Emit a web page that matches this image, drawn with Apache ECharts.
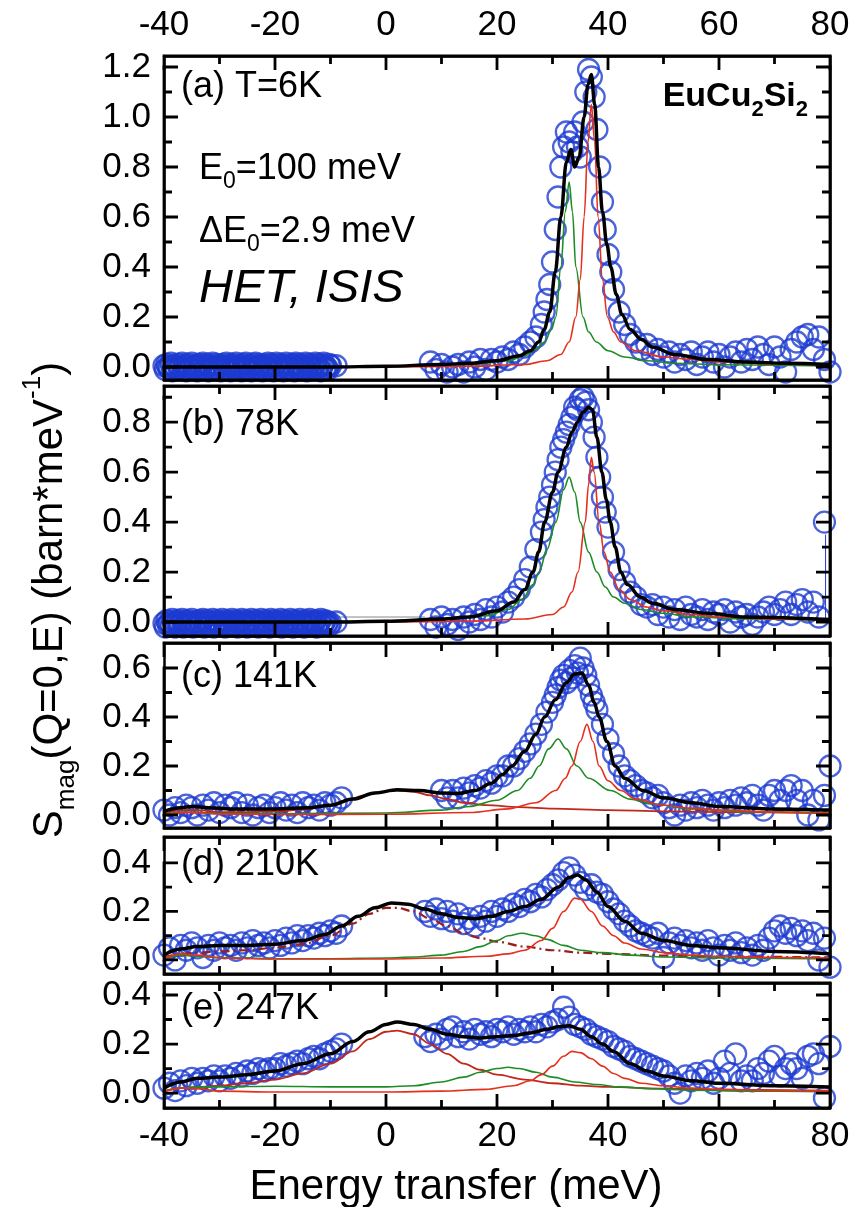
<!DOCTYPE html>
<html><head><meta charset="utf-8">
<script src="https://cdn.jsdelivr.net/npm/echarts@6/dist/echarts.min.js"></script>
<style>html,body{margin:0;padding:0;background:#fff}#c{width:854px;height:1207px}</style>
</head><body><div id="c"></div>
<script>
// ---------- axis values ----------
const xTickLabels = [-40, -20, 0, 20, 40, 60, 80];
const xMinorTicks = [-30, -10, 10, 30, 50, 70];
const yMin = [-0.052, -0.056, -0.053, -0.058, -0.061];
const yMax = [1.244, 0.945, 0.702, 0.507, 0.449];
const yMajor = [[0,0.2,0.4,0.6,0.8,1.0,1.2],[0,0.2,0.4,0.6,0.8],[0,0.2,0.4,0.6],[0,0.2,0.4],[0,0.2,0.4]];
const yMinor = [[0.1,0.3,0.5,0.7,0.9,1.1],[0.1,0.3,0.5,0.7,0.9],[0.1,0.3,0.5],[0.1,0.3],[0.1,0.3]];
const panelLabels = ['(a) T=6K', '(b) 78K', '(c) 141K', '(d) 210K', '(e) 247K'];

// ---------- measured data (circles) ----------
const bandX = [-40,-39.75,-39.5,-39.25,-39,-38.75,-38.5,-38.25,-38,-37.75,-37.5,-37.25,-37,-36.75,-36.5,-36.25,-36,-35.75,-35.5,-35.25,
  -35,-34.75,-34.5,-34.25,-34,-33.75,-33.5,-33.25,-33,-32.75,-32.5,-32.25,-32,-31.75,-31.5,-31.25,-31,-30.75,-30.5,-30.25,
  -30,-29.75,-29.5,-29.25,-29,-28.75,-28.5,-28.25,-28,-27.75,-27.5,-27.25,-27,-26.75,-26.5,-26.25,-26,-25.75,-25.5,-25.25,
  -25,-24.75,-24.5,-24.25,-24,-23.75,-23.5,-23.25,-23,-22.75,-22.5,-22.25,-22,-21.75,-21.5,-21.25,-21,-20.75,-20.5,-20.25,
  -20,-19.75,-19.5,-19.25,-19,-18.75,-18.5,-18.25,-18,-17.75,-17.5,-17.25,-17,-16.75,-16.5,-16.25,-16,-15.75,-15.5,-15.25,
  -15,-14.75,-14.5,-14.25,-14,-13.75,-13.5,-13.25,-13,-12.75,-12.5,-12.25,-12,-11.75,-11.5,-11.25,-11,-10.75,-10.5,-10.25,-10];
const bandA = [0.005,-0.01,0.01,0.0,-0.005,0.015,-0.015,0.005,0.0,-0.01,
  0.01,-0.005,0.0,0.015,-0.01,0.005,-0.015,0.01,0.0,-0.005,
  0.015,-0.01,0.005,0.0,-0.015,0.01,-0.005,0.005,0.015,-0.01,
  0.0,0.01,-0.015,0.005,-0.005,0.015,0.0,-0.01,0.01,-0.005,
  0.005,-0.015,0.01,0.0,-0.01,0.015,-0.005,0.005,-0.015,0.01,
  0.0,-0.005,0.015,-0.01,0.005,0.0,-0.015,0.01,-0.005,0.015,
  -0.01,0.005,0.0,-0.015,0.01,-0.005,0.015,0.0,-0.01,0.005,
  0.01,-0.015,0.0,0.005,-0.005,0.015,-0.01,0.01,0.0,-0.015,
  0.005,0.015,-0.005,-0.01,0.01,0.0,-0.015,0.005,0.015,-0.005,
  0.0,-0.01,0.01,0.005,-0.015,0.015,-0.005,0.0,0.01,-0.01,
  0.005,-0.005,0.015,-0.015,0.0,0.01,-0.01,0.005,-0.005,0.015,
  -0.01,0.0,0.01,-0.015,0.005,0.015,-0.005,0.0,-0.01,0.01,0.005];
const bandB = [-0.005,-0.02,0.005,-0.01,0.0,-0.015,0.01,-0.005,-0.02,0.0,
  0.005,-0.015,-0.005,0.01,-0.02,0.0,-0.01,0.005,-0.015,-0.005,
  0.01,-0.02,0.0,-0.005,-0.015,0.005,-0.01,0.0,0.01,-0.02,
  -0.005,0.005,-0.015,0.0,-0.01,0.01,-0.02,-0.005,0.005,-0.01,
  0.0,-0.015,0.01,-0.005,-0.02,0.005,-0.01,0.0,-0.015,0.01,
  -0.005,-0.01,0.005,-0.02,0.0,-0.005,0.01,-0.015,-0.005,0.005,
  -0.02,0.0,-0.01,0.01,-0.005,-0.015,0.005,0.0,-0.02,-0.005,
  0.01,-0.01,-0.005,0.005,-0.015,0.0,-0.02,0.01,-0.005,-0.01,
  0.005,-0.015,0.0,-0.005,0.01,-0.02,-0.01,0.005,0.0,-0.015,
  -0.005,0.01,-0.01,-0.02,0.005,0.0,-0.015,-0.005,0.01,-0.01,
  0.0,-0.02,0.005,-0.005,-0.01,0.01,-0.015,0.0,-0.005,0.005,
  -0.02,-0.01,0.0,0.01,-0.015,-0.005,0.005,-0.01,0.0,-0.015,-0.005];

const dataA = [[-9,0.005],[8,0.02],[9,-0.01],[10,0.01],[11,-0.02],[12,0.0],[13,0.01],[14,-0.02],[15,0.02],[16,0.0],[17,0.03],[18,-0.01],[19,0.03],[20,0.02],[21,0.04],[22,0.03],[23,0.06],[24,0.05],[25,0.08],[26,0.1],[27,0.12],[28,0.17],[28.5,0.22],[29,0.27],[29.5,0.33],[30,0.42],[30.5,0.55],[31,0.68],[31.5,0.8],[32,0.88],[32.5,0.94],[33,0.9],[33.5,0.86],[34,0.94],[34.5,0.88],[35,0.84],[35.5,0.98],[36,1.1],[36.5,1.19],[37,1.16],[37.5,1.08],[38,0.95],[38.5,0.8],[39,0.66],[39.5,0.55],[40,0.45],[40.5,0.38],[41,0.31],[42,0.22],[43,0.17],[44,0.13],[45,0.1],[46,0.07],[47,0.09],[48,0.05],[49,0.07],[50,0.04],[51,0.06],[52,0.02],[53,0.05],[54,0.03],[55,0.06],[56,0.01],[57,0.04],[58,0.06],[59,0.02],[60,0.05],[61,0.0],[62,0.04],[63,0.06],[64,0.02],[65,0.07],[66,0.03],[67,0.08],[68,0.05],[69,0.01],[70,0.08],[71,0.04],[72,-0.02],[73,0.07],[74,0.1],[75,0.12],[76,0.13],[77,0.07],[78,0.12],[79,0.03],[80,-0.02]];
const dataB = [[-9,0.0],[8,0.01],[9,-0.02],[10,0.02],[11,-0.01],[12,0.01],[13,-0.03],[14,0.02],[15,0.0],[16,0.03],[17,0.01],[18,0.05],[19,0.02],[20,0.06],[21,0.04],[22,0.08],[23,0.1],[24,0.13],[25,0.17],[26,0.22],[27,0.29],[28,0.36],[28.5,0.41],[29,0.46],[29.5,0.5],[30,0.55],[30.5,0.6],[31,0.65],[31.5,0.7],[32,0.73],[32.5,0.76],[33,0.79],[33.5,0.82],[34,0.86],[34.5,0.85],[35,0.89],[35.5,0.9],[36,0.88],[36.5,0.85],[37,0.8],[37.5,0.74],[38,0.66],[38.5,0.58],[39,0.5],[39.5,0.44],[40,0.38],[41,0.28],[42,0.21],[43,0.16],[44,0.12],[45,0.1],[46,0.07],[47,0.06],[48,0.07],[49,0.03],[50,0.06],[51,0.02],[52,0.05],[53,0.01],[54,0.06],[55,0.03],[56,0.02],[57,0.05],[58,0.01],[59,0.04],[60,0.03],[61,0.05],[62,0.0],[63,0.04],[64,0.02],[65,0.03],[66,-0.01],[67,0.02],[68,0.04],[69,0.06],[70,0.03],[71,0.05],[72,0.08],[73,0.03],[74,0.07],[75,0.09],[76,0.04],[77,0.08],[78,0.02],[79,0.4]];
const errB = [[79.2,0.35],[79.2,0.0]];
const gapB = [[-9,0.02],[7,0.02]];
const dataC = [[-40,0.02],[-39,0.0],[-38,0.03],[-37,0.01],[-36,0.04],[-35,0.03],[-34,0.0],[-33,0.04],[-32,0.02],[-31,0.05],[-30,0.01],[-29,0.04],[-28,0.03],[-27,0.05],[-26,0.01],[-25,0.04],[-24,0.0],[-23,0.03],[-22,0.04],[-21,0.01],[-20,0.03],[-19,0.05],[-18,0.02],[-17,0.04],[-16,0.01],[-15,0.05],[-14,0.03],[-13,0.04],[-12,0.02],[-11,0.05],[-10,0.04],[-9,0.05],[-8,0.07],
  [10,0.1],[11,0.07],[12,0.1],[13,0.07],[14,0.11],[15,0.09],[16,0.12],[17,0.11],[18,0.14],[19,0.13],[20,0.16],[21,0.16],[22,0.2],[23,0.2],[24,0.23],[25,0.26],[26,0.29],[27,0.33],[28,0.37],[29,0.42],[30,0.46],[30.5,0.49],[31,0.52],[31.5,0.55],[32,0.57],[32.5,0.54],[33,0.59],[33.5,0.56],[34,0.61],[34.5,0.58],[35,0.64],[35.5,0.6],[36,0.57],[36.5,0.53],[37,0.49],[37.5,0.46],[38,0.43],[39,0.37],[40,0.31],[41,0.25],[42,0.2],[43,0.16],[44,0.14],[45,0.12],[46,0.1],[47,0.09],[48,0.07],[49,0.08],[50,0.05],[51,0.03],[52,0.0],[53,0.04],[54,0.02],[55,0.05],[56,0.03],[57,0.06],[58,0.04],[59,0.02],[60,0.05],[61,0.03],[62,0.06],[63,0.04],[64,0.07],[65,0.05],[66,0.08],[67,0.04],[68,0.02],[69,0.08],[70,0.1],[71,0.06],[72,0.1],[73,0.12],[74,0.06],[75,0.1],[76,0.0],[77,0.06],[78,-0.02],[79,0.08],[80,0.2]];
const dataD = [[-40,0.02],[-39,0.05],[-38,0.0],[-37,0.06],[-36,0.04],[-35,0.07],[-34,0.05],[-33,0.01],[-32,0.06],[-31,0.04],[-30,0.07],[-29,0.05],[-28,0.06],[-27,0.04],[-26,0.07],[-25,0.05],[-24,0.08],[-23,0.06],[-22,0.07],[-21,0.05],[-20,0.08],[-19,0.06],[-18,0.09],[-17,0.07],[-16,0.1],[-15,0.08],[-14,0.1],[-13,0.09],[-12,0.11],[-11,0.1],[-10,0.12],[-9,0.11],[-8,0.14],
  [7,0.2],[8,0.18],[9,0.21],[10,0.17],[11,0.2],[12,0.16],[13,0.19],[14,0.15],[15,0.17],[16,0.14],[17,0.18],[18,0.16],[19,0.2],[20,0.18],[21,0.21],[22,0.2],[23,0.23],[24,0.22],[25,0.25],[26,0.24],[27,0.27],[28,0.26],[29,0.29],[30,0.31],[31,0.33],[32,0.36],[33,0.38],[34,0.35],[35,0.32],[36,0.29],[37,0.31],[38,0.28],[39,0.27],[40,0.24],[41,0.21],[42,0.19],[43,0.16],[44,0.14],[45,0.12],[46,0.11],[47,0.1],[48,0.09],[49,0.11],[50,0.01],[51,0.07],[52,0.09],[53,0.06],[54,0.08],[55,0.05],[56,0.07],[57,0.04],[58,0.08],[59,0.05],[60,0.02],[61,0.06],[62,0.04],[63,0.07],[64,0.03],[65,0.05],[66,0.02],[67,0.06],[68,0.04],[69,0.09],[70,0.12],[71,0.14],[72,0.11],[73,0.13],[74,0.1],[75,0.12],[76,0.08],[77,0.11],[78,0.0],[79,0.09],[80,-0.03]];
const dataE = [[-40,0.02],[-39,0.04],[-38,0.01],[-37,0.05],[-36,0.03],[-35,0.06],[-34,0.04],[-33,0.06],[-32,0.05],[-31,0.07],[-30,0.05],[-29,0.07],[-28,0.06],[-27,0.08],[-26,0.07],[-25,0.09],[-24,0.08],[-23,0.1],[-22,0.09],[-21,0.1],[-20,0.1],[-19,0.12],[-18,0.11],[-17,0.12],[-16,0.13],[-15,0.12],[-14,0.14],[-13,0.15],[-12,0.14],[-11,0.16],[-10,0.17],[-9,0.18],[-8,0.2],
  [7,0.23],[8,0.21],[9,0.24],[10,0.22],[11,0.26],[12,0.27],[13,0.23],[14,0.25],[15,0.22],[16,0.26],[17,0.24],[18,0.25],[19,0.23],[20,0.26],[21,0.25],[22,0.27],[23,0.24],[24,0.26],[25,0.25],[26,0.27],[27,0.25],[28,0.28],[29,0.27],[30,0.29],[31,0.3],[32,0.35],[33,0.31],[34,0.28],[35,0.27],[36,0.26],[37,0.24],[38,0.23],[39,0.22],[40,0.21],[41,0.19],[42,0.18],[43,0.17],[44,0.15],[45,0.14],[46,0.13],[47,0.12],[48,0.11],[49,0.1],[50,0.09],[51,0.07],[52,0.04],[53,0.0],[54,0.07],[55,0.05],[56,0.08],[57,0.06],[58,0.09],[59,0.04],[60,0.06],[61,0.13],[62,0.08],[63,0.16],[64,0.05],[65,0.07],[66,0.05],[67,0.1],[68,0.08],[69,0.13],[70,0.15],[71,0.07],[72,0.1],[73,0.12],[74,0.1],[75,0.06],[76,0.15],[77,0.16],[78,0.12],[79,-0.02],[80,0.19]];

// ---------- fitted curves ----------
const fitA = [[-40,0],[-20,0],[-10,0],[0,0.003],[10,0.01],[15,0.015],[20,0.025],[24,0.045],[26,0.065],[27.5,0.1],[28.5,0.15],[29.5,0.22],[30.5,0.38],[31.5,0.6],[32.5,0.82],[33.3,0.87],[34,0.8],[34.8,0.84],[35.7,1.0],[36.4,1.13],[37,1.17],[37.6,1.05],[38.3,0.8],[39,0.62],[39.8,0.49],[40.5,0.4],[41.5,0.29],[42.5,0.21],[44,0.15],[46,0.11],[48,0.08],[52,0.05],[58,0.03],[65,0.02],[72,0.015],[80,0.01]];
const greenA = [[-40,0],[0,0.002],[15,0.01],[22,0.025],[25,0.045],[27,0.07],[28.6,0.1],[29.8,0.15],[30.6,0.2],[31.5,0.4],[32.3,0.62],[33,0.74],[33.6,0.62],[34.2,0.4],[35.5,0.2],[36.5,0.14],[37.9,0.1],[40,0.065],[43,0.04],[47,0.025],[52,0.015],[60,0.009],[80,0.004]];
const redA = [[-40,0],[0,0],[15,0.003],[25,0.01],[29,0.025],[31.5,0.05],[33,0.1],[34.2,0.2],[35,0.35],[35.7,0.6],[36.4,0.9],[37,1.05],[37.6,0.9],[38.2,0.6],[39,0.35],[39.9,0.2],[41,0.14],[42.3,0.1],[45,0.065],[50,0.04],[55,0.03],[60,0.02],[70,0.012],[80,0.008]];
const fitB = [[-40,0],[-20,0],[-10,0],[0,0.003],[10,0.012],[15,0.02],[20,0.045],[23,0.08],[25,0.13],[26.5,0.2],[27.5,0.28],[28.6,0.4],[30,0.52],[31,0.6],[32.5,0.7],[33.5,0.76],[34.5,0.8],[35.5,0.84],[36.5,0.86],[37.2,0.85],[38,0.74],[38.9,0.6],[39.7,0.49],[40.4,0.4],[41.3,0.3],[42.3,0.2],[43.5,0.15],[45.8,0.1],[48,0.075],[52,0.05],[58,0.035],[65,0.02],[80,0.01]];
const greenB = [[-40,0],[0,0.003],[10,0.01],[18,0.025],[22,0.05],[24.5,0.09],[26.5,0.15],[27.6,0.2],[29,0.29],[30.6,0.4],[32,0.53],[33,0.58],[34,0.52],[35,0.4],[36.5,0.28],[38,0.2],[39.5,0.14],[41,0.1],[43,0.075],[46,0.05],[50,0.035],[55,0.02],[65,0.012],[80,0.006]];
const redB = [[-40,0],[0,0],[15,0.003],[25,0.012],[30,0.03],[32,0.06],[33.5,0.12],[34.6,0.2],[35.9,0.4],[36.5,0.55],[37,0.66],[37.5,0.6],[38.4,0.4],[39.3,0.28],[40.4,0.2],[42,0.13],[44,0.09],[47,0.06],[50,0.045],[55,0.03],[60,0.02],[70,0.012],[80,0.008]];
const fitC = [[-40,0.015],[-37,0.03],[-35,0.035],[-32,0.03],[-28,0.025],[-20,0.025],[-14,0.03],[-10,0.04],[-6,0.065],[-2,0.09],[2,0.103],[6,0.1],[10,0.09],[13,0.088],[16,0.1],[19,0.13],[21,0.165],[22.7,0.2],[25,0.26],[27,0.33],[28.6,0.4],[30.5,0.47],[32.5,0.54],[34,0.575],[35.3,0.58],[36.5,0.53],[37.5,0.46],[38.4,0.4],[39.8,0.3],[41.3,0.2],[43,0.15],[46.3,0.1],[50,0.07],[55,0.05],[60,0.035],[70,0.025],[80,0.02]];
const qeC = [[-40,0.005],[-37,0.02],[-34,0.02],[-30,0.012],[-25,0.012],[-20,0.015],[-15,0.022],[-11,0.035],[-7,0.06],[-4,0.08],[-1,0.095],[2,0.1],[5,0.095],[8,0.08],[11,0.065],[14,0.05],[18,0.04],[24,0.032],[30,0.026],[40,0.02],[50,0.015],[60,0.012],[80,0.008]];
const greenC = [[-40,0.005],[-35,0.012],[-30,0.006],[-20,0.005],[0,0.008],[10,0.02],[15,0.035],[20,0.06],[23.7,0.1],[26,0.15],[27.6,0.2],[29.3,0.27],[31,0.31],[32.5,0.27],[34.4,0.2],[36.5,0.15],[40.4,0.1],[44,0.065],[48,0.045],[55,0.025],[65,0.013],[80,0.007]];
const redC = [[-40,0.003],[-35,0.01],[-30,0.004],[-20,0.002],[0,0.003],[15,0.01],[22,0.025],[27,0.05],[30.6,0.1],[32.3,0.15],[33.5,0.2],[35,0.3],[36.2,0.37],[37.3,0.3],[38.4,0.2],[40,0.14],[42.3,0.1],[45,0.065],[50,0.04],[55,0.028],[60,0.02],[70,0.012],[80,0.008]];
const fitD = [[-40,0.02],[-37,0.045],[-34,0.055],[-30,0.06],[-25,0.06],[-20,0.065],[-15,0.08],[-11,0.105],[-8,0.14],[-5,0.18],[-2,0.215],[1,0.235],[4,0.23],[7,0.21],[10,0.19],[13,0.175],[16,0.17],[19,0.18],[22,0.2],[25,0.22],[28,0.25],[31,0.3],[33,0.34],[34.5,0.35],[36,0.33],[38,0.28],[40,0.22],[43,0.16],[46,0.11],[50,0.08],[55,0.06],[60,0.05],[70,0.035],[80,0.025]];
const qeD = [[-40,0.01],[-37,0.025],[-34,0.03],[-30,0.035],[-25,0.04],[-20,0.05],[-15,0.065],[-10,0.1],[-6,0.15],[-3,0.19],[0,0.215],[2,0.215],[5,0.2],[8,0.17],[11,0.14],[14,0.11],[17,0.09],[20,0.075],[25,0.055],[30,0.04],[35,0.03],[40,0.025],[50,0.018],[60,0.014],[80,0.01]];
const greenD = [[-40,0.005],[-37,0.02],[-34,0.015],[-30,0.01],[-20,0.005],[-10,0.005],[0,0.008],[5,0.012],[10,0.02],[14,0.035],[17,0.055],[20,0.08],[22,0.1],[24.5,0.11],[27,0.1],[29,0.085],[32,0.06],[35,0.04],[39,0.03],[44,0.02],[50,0.012],[60,0.008],[80,0.004]];
const redD = [[-40,0.005],[-37,0.025],[-34,0.02],[-30,0.008],[-20,0.004],[0,0.004],[10,0.008],[18,0.015],[22,0.025],[25,0.04],[28,0.08],[30,0.13],[32,0.2],[34,0.255],[35,0.25],[37,0.2],[39,0.14],[41,0.1],[43,0.07],[46,0.045],[50,0.03],[55,0.02],[60,0.015],[70,0.01],[80,0.008]];
const fitE = [[-40,0.02],[-37,0.045],[-34,0.06],[-30,0.065],[-25,0.075],[-20,0.09],[-15,0.12],[-10,0.16],[-6,0.21],[-3,0.25],[0,0.28],[2,0.29],[5,0.28],[8,0.26],[11,0.24],[14,0.23],[17,0.225],[20,0.23],[23,0.235],[26,0.245],[29,0.26],[31,0.27],[33,0.275],[35,0.26],[37,0.23],[39,0.2],[41,0.17],[44,0.12],[47,0.09],[50,0.07],[55,0.05],[60,0.04],[70,0.03],[80,0.025]];
const qeE = [[-40,0.008],[-37,0.02],[-34,0.025],[-30,0.03],[-25,0.04],[-20,0.055],[-15,0.08],[-10,0.12],[-6,0.17],[-3,0.22],[0,0.25],[2,0.255],[5,0.24],[8,0.2],[11,0.16],[14,0.12],[17,0.095],[20,0.075],[25,0.055],[30,0.04],[35,0.03],[40,0.025],[50,0.018],[60,0.014],[80,0.01]];
const greenE = [[-40,0.008],[-37,0.02],[-34,0.025],[-30,0.025],[-20,0.028],[-10,0.025],[0,0.025],[5,0.03],[10,0.045],[14,0.065],[17,0.085],[20,0.1],[22,0.105],[24,0.1],[27,0.085],[30,0.065],[34,0.045],[38,0.035],[42,0.025],[48,0.018],[55,0.012],[65,0.008],[80,0.005]];
const redE = [[-40,0.005],[-37,0.02],[-34,0.018],[-30,0.008],[-20,0.004],[0,0.004],[10,0.008],[18,0.015],[23,0.03],[26,0.05],[28,0.075],[30,0.11],[32,0.15],[33.5,0.17],[35,0.165],[37,0.14],[39,0.11],[41,0.08],[43,0.06],[46,0.04],[50,0.03],[55,0.02],[60,0.015],[70,0.01],[80,0.008]];

// ---------- layout ----------
const FONT = "'Liberation Sans', Arial, Helvetica, sans-serif";
const gLeft = 164, gWidth = 666;
const panelTop = [56, 386, 643, 837, 983];
const panelH = [324, 250, 185, 137, 125];
const BLUE = '#1d3bd1', RED = '#e5301e', GREEN = '#1e8c26', QE = '#c0281c', DARKRED = '#9a1e1e';
const MAJOR_LEN = 14, MINOR_LEN = 8;

const zip = (xs, ys) => xs.map((x, i) => [x, ys[i]]);
const panelData = [zip(bandX, bandA).concat(dataA), zip(bandX, bandB).concat(dataB), dataC, dataD, dataE];
const panelCurves = [
  [{d: greenA, c: GREEN, w: 1.6}, {d: redA, c: RED, w: 1.6}, {d: fitA, c: '#000', w: 3.5}],
  [{d: greenB, c: GREEN, w: 1.6}, {d: redB, c: RED, w: 1.6}, {d: fitB, c: '#000', w: 3.5}],
  [{d: qeC, c: QE, w: 1.8}, {d: greenC, c: GREEN, w: 1.6}, {d: redC, c: RED, w: 1.6}, {d: fitC, c: '#000', w: 3.5}],
  [{d: qeD, c: DARKRED, w: 2.2, t: [9, 4, 2, 4]}, {d: greenD, c: GREEN, w: 1.6}, {d: redD, c: RED, w: 1.6}, {d: fitD, c: '#000', w: 3.5}],
  [{d: qeE, c: QE, w: 1.8}, {d: greenE, c: GREEN, w: 1.6}, {d: redE, c: RED, w: 1.6}, {d: fitE, c: '#000', w: 3.5}]
];

// inward tick marks as polylines running along each frame side (drawn through the axis scales)
function tickPaths(i) {
  const xs = xTickLabels[0], xe = xTickLabels[xTickLabels.length - 1];
  const perPxY = (yMax[i] - yMin[i]) / panelH[i], perPxX = (xe - xs) / gWidth;
  const xT = xTickLabels.map(v => [v, MAJOR_LEN]).concat(xMinorTicks.map(v => [v, MINOR_LEN])).sort((a, b) => a[0] - b[0]);
  const yT = yMajor[i].map(v => [v, MAJOR_LEN]).concat(yMinor[i].map(v => [v, MINOR_LEN])).sort((a, b) => a[0] - b[0]);
  const bottom = [], top = [], left = [], right = [];
  xT.forEach(([v, L]) => {
    bottom.push([v, yMin[i]], [v, yMin[i] + L * perPxY], [v, yMin[i]]);
    top.push([v, yMax[i]], [v, yMax[i] - L * perPxY], [v, yMax[i]]);
  });
  yT.forEach(([v, L]) => {
    left.push([xs, v], [xs + L * perPxX, v], [xs, v]);
    right.push([xe, v], [xe - L * perPxX, v], [xe, v]);
  });
  return [bottom, top, left, right].map(d => ({
    type: 'line', xAxisIndex: 2 * i, yAxisIndex: 4 * i, data: d, symbol: 'none', showSymbol: false, smooth: false,
    clip: false, silent: true, z: 7, lineStyle: {color: '#000', width: 2.8, cap: 'butt', join: 'miter'}
  }));
}

const grids = [], xAxes = [], yAxes = [], series = [];
const lineS = {color: '#000', width: 2.5};
for (let i = 0; i < 5; i++) {
  grids.push({left: gLeft, width: gWidth, top: panelTop[i], height: panelH[i]});
  const xBase = {gridIndex: i, type: 'value', min: xTickLabels[0], max: xTickLabels[xTickLabels.length - 1], interval: 20, z: 6,
    axisLine: {show: true, onZero: false, lineStyle: lineS},
    axisTick: {show: false}, minorTick: {show: false},
    splitLine: {show: false}, minorSplitLine: {show: false}};
  xAxes.push(Object.assign({}, xBase, {position: 'bottom',
    axisLabel: {show: i === 4, margin: 11, fontSize: 35, color: '#000', fontFamily: FONT}}));
  xAxes.push(Object.assign({}, xBase, {position: 'top',
    axisLabel: {show: i === 0, margin: 13, fontSize: 35, color: '#000', fontFamily: FONT}}));
  const yBase = {gridIndex: i, type: 'value', min: yMin[i], max: yMax[i], splitLine: {show: false}, z: 6, axisTick: {show: false}};
  yAxes.push(Object.assign({}, yBase, {position: 'left', axisLine: {show: true, onZero: false, lineStyle: lineS},
    axisLabel: {show: true, customValues: yMajor[i], formatter: v => Number(v).toFixed(1), margin: 13, fontSize: 35, color: '#000', fontFamily: FONT}}));
  yAxes.push(Object.assign({}, yBase, {position: 'left', show: false, axisLine: {show: false, onZero: false}, axisLabel: {show: false}}));
  yAxes.push(Object.assign({}, yBase, {position: 'right', axisLine: {show: true, onZero: false, lineStyle: lineS}, axisLabel: {show: false}}));
  yAxes.push(Object.assign({}, yBase, {position: 'right', show: false, axisLine: {show: false, onZero: false}, axisLabel: {show: false}}));

  series.push({type: 'scatter', xAxisIndex: 2 * i, yAxisIndex: 4 * i, data: panelData[i], symbol: 'circle', symbolSize: 21,
    itemStyle: {color: 'rgba(0,0,0,0)', borderColor: BLUE, borderWidth: 2.3}, z: 2, silent: true});
  if (i === 1) {
    series.push({type: 'line', xAxisIndex: 2, yAxisIndex: 4, data: errB, symbol: 'none', lineStyle: {color: BLUE, width: 1}, z: 2});
    series.push({type: 'line', xAxisIndex: 2, yAxisIndex: 4, data: gapB, symbol: 'none', lineStyle: {color: '#888', width: 1}, z: 2});
  }
  panelCurves[i].forEach(cv => {
    series.push({type: 'line', xAxisIndex: 2 * i, yAxisIndex: 4 * i, data: cv.d, symbol: 'none', showSymbol: false,
      smooth: 0.35, smoothMonotone: 'x',
      lineStyle: {color: cv.c, width: cv.w, type: cv.t || 'solid'}, z: cv.c === '#000' ? 4 : 3, silent: true});
  });
  tickPaths(i).forEach(s => series.push(s));
}

// ---------- texts ----------
const labelY = [87, 425, 677, 865, 1009];
const graphics = panelLabels.map((t, i) => ({type: 'text', x: 181, y: labelY[i], z: 10,
  style: {text: t, font: '36px ' + FONT, fill: '#000', align: 'left', verticalAlign: 'middle'}}));
const subRich = (fs, sfs, lh) => ({
  m: {fontSize: fs, fontFamily: FONT, lineHeight: lh, fill: '#000'},
  s: {fontSize: sfs, fontFamily: FONT, lineHeight: sfs, verticalAlign: 'bottom', fill: '#000'},
  p: {fontSize: sfs, fontFamily: FONT, lineHeight: sfs, verticalAlign: 'top', fill: '#000'},
  b: {fontSize: fs, fontFamily: FONT, fontWeight: 'bold', lineHeight: lh, fill: '#000'},
  bs: {fontSize: sfs, fontFamily: FONT, fontWeight: 'bold', lineHeight: sfs, verticalAlign: 'bottom', fill: '#000'}
});
graphics.push({type: 'text', x: 199, y: 169, z: 10,
  style: {text: '{m|E}{s|0}{m|=100 meV}', rich: subRich(36, 23, 48), align: 'left', verticalAlign: 'middle'}});
graphics.push({type: 'text', x: 199, y: 232, z: 10,
  style: {text: '{m|\u0394E}{s|0}{m|=2.9 meV}', rich: subRich(36, 23, 48), align: 'left', verticalAlign: 'middle'}});
graphics.push({type: 'text', x: 199, y: 289, z: 10,
  style: {text: 'HET, ISIS', font: 'italic 47px ' + FONT, fill: '#000', align: 'left', verticalAlign: 'middle'}});
graphics.push({type: 'text', x: 808, y: 97, z: 10,
  style: {text: '{b|EuCu}{bs|2}{b|Si}{bs|2}', rich: subRich(34, 22, 48), align: 'right', verticalAlign: 'middle'}});
graphics.push({type: 'text', x: 456, y: 1187, z: 10,
  style: {text: 'Energy transfer (meV)', font: '42px ' + FONT, fill: '#000', align: 'center', verticalAlign: 'middle'}});
graphics.push({type: 'text', x: 50, y: 600, rotation: Math.PI / 2, z: 10,
  style: {text: '{m|S}{s|mag}{m|(Q=0,E) (barn*meV}{p|-1}{m|)}', rich: subRich(42, 26, 60), align: 'center', verticalAlign: 'middle'}});

const chart = echarts.init(document.getElementById('c'), null, {renderer: 'canvas'});
chart.setOption({
  animation: false, backgroundColor: '#fff',
  grid: grids, xAxis: xAxes, yAxis: yAxes, series: series, graphic: graphics
});
</script></body></html>
